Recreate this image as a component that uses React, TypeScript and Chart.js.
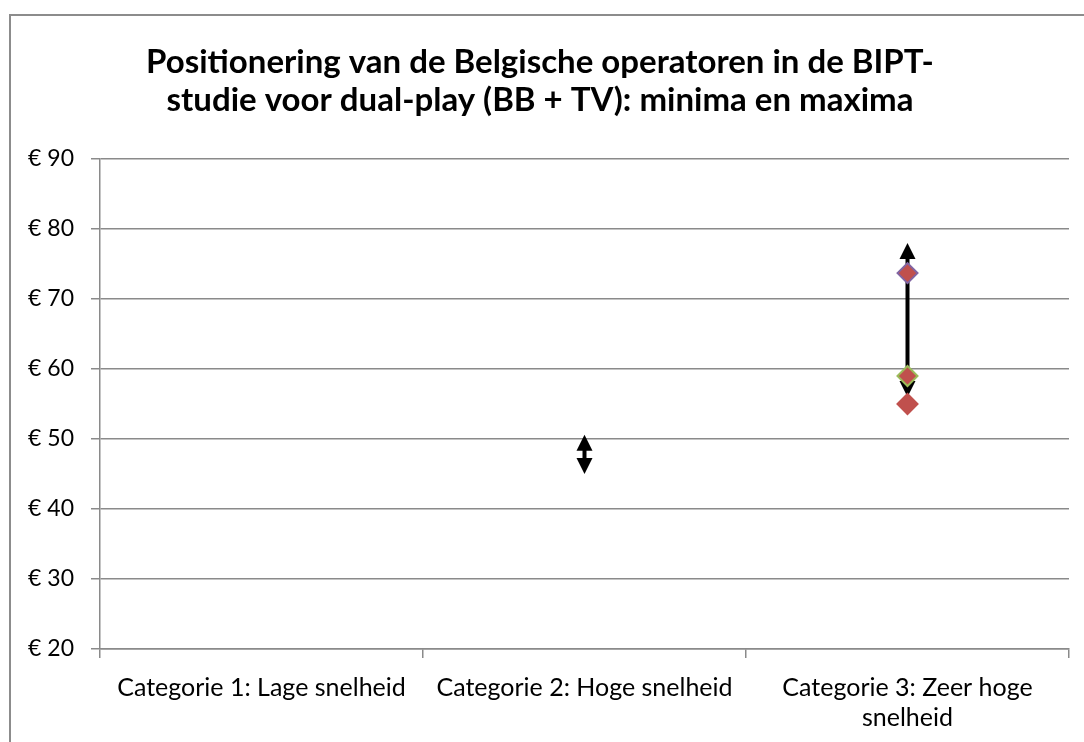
import React, { useEffect, useRef } from "react";
import { Chart, registerables } from "chart.js";

Chart.register(...registerables);

const titleLines = [
  "Positionering van de Belgische operatoren in de BIPT-",
  "studie voor dual-play (BB + TV): minima en maxima",
];
const categories: (string | string[])[] = [
  "Categorie 1: Lage snelheid",
  "Categorie 2: Hoge snelheid",
  ["Categorie 3: Zeer hoge", "snelheid"],
];
const arrowMin: (number | null)[] = [null, 45, 56];
const arrowMax: (number | null)[] = [null, 50.6, 78];
const operatorA: (number | null)[] = [null, null, 73.7];
const operatorB: (number | null)[] = [null, null, 59];
const operatorC: (number | null)[] = [null, null, 55];
const yTicks = [20, 30, 40, 50, 60, 70, 80, 90];

const FONT = "Lato, 'Noto Sans', sans-serif";
const GRID = "#8a8a8a";

const arrowPlugin = {
  id: "minMaxArrows",
  beforeDatasetsDraw(chart: any) {
    const { ctx, scales } = chart;
    const xs = scales.x;
    const ys = scales.y;
    const head = 16;
    const half = 8;
    ctx.save();
    ctx.fillStyle = "#000";
    ctx.strokeStyle = "#000";
    ctx.lineWidth = 4;
    for (let i = 0; i < categories.length; i++) {
      const lo = arrowMin[i];
      const hi = arrowMax[i];
      if (lo == null || hi == null) continue;
      const x = xs.getPixelForValue(i);
      const yLo = ys.getPixelForValue(lo);
      const yHi = ys.getPixelForValue(hi);
      ctx.beginPath();
      ctx.moveTo(x, yHi + head - 1);
      ctx.lineTo(x, yLo - head + 1);
      ctx.stroke();
      ctx.beginPath();
      ctx.moveTo(x, yHi);
      ctx.lineTo(x - half, yHi + head);
      ctx.lineTo(x + half, yHi + head);
      ctx.closePath();
      ctx.fill();
      ctx.beginPath();
      ctx.moveTo(x, yLo);
      ctx.lineTo(x - half, yLo - head);
      ctx.lineTo(x + half, yLo - head);
      ctx.closePath();
      ctx.fill();
    }
    ctx.restore();
  },
};

function markerSet(label: string, data: (number | null)[], border: string) {
  return {
    label,
    data,
    showLine: false,
    pointStyle: "rectRot",
    pointRadius: 10,
    pointHoverRadius: 10,
    pointBackgroundColor: "#C0504D",
    pointBorderColor: border,
    pointBorderWidth: 2,
    backgroundColor: "#C0504D",
    borderColor: border,
  };
}

export default function App() {
  const ref = useRef<HTMLCanvasElement | null>(null);
  useEffect(() => {
    if (!ref.current) return;
    const chart = new Chart(ref.current, {
      type: "line",
      data: {
        labels: categories as any,
        datasets: [
          markerSet("Operator A", operatorA, "#8064A2"),
          markerSet("Operator B", operatorB, "#9BBB59"),
          markerSet("Operator C", operatorC, "#C0504D"),
        ] as any,
      },
      plugins: [arrowPlugin],
      options: {
        responsive: false,
        animation: false,
        layout: { padding: { right: 15, left: 0, top: 0, bottom: 0 } },
        plugins: {
          legend: { display: false },
          tooltip: { enabled: false },
          title: {
            display: true,
            text: titleLines,
            color: "#000",
            font: { family: FONT, size: 33, weight: "bold", lineHeight: 38 / 33 },
            padding: { top: 27, bottom: 40 },
          },
        },
        scales: {
          x: {
            type: "category",
            offset: true,
            afterFit: (s: any) => {
              s.height = 93;
            },
            grid: {
              offset: true,
              drawOnChartArea: false,
              drawTicks: true,
              tickLength: 9,
              color: GRID,
              lineWidth: 1.5,
            },
            border: { color: GRID, width: 1.5 },
            ticks: {
              color: "#000",
              padding: 15,
              maxRotation: 0,
              autoSkip: false,
              font: { family: FONT, size: 25, lineHeight: 30 / 25 },
            },
          },
          y: {
            min: 20,
            max: 90,
            afterFit: (s: any) => {
              s.width = 89;
            },
            afterBuildTicks: (s: any) => {
              s.ticks = yTicks.map((v) => ({ value: v }));
            },
            grid: {
              color: GRID,
              lineWidth: 1.5,
              tickLength: 9,
            },
            border: { color: GRID, width: 1.5 },
            ticks: {
              color: "#000",
              padding: 17,
              font: { family: FONT, size: 23 },
              callback: (v: any) => "€ " + v,
            },
          },
        },
      },
    } as any);
    return () => chart.destroy();
  }, []);
  return (
    <div
      style={{
        position: "fixed",
        left: 9,
        top: 14,
        width: 1075,
        height: 728,
        boxSizing: "border-box",
        borderLeft: "2px solid #8c8c8c",
        borderTop: "2px solid #8c8c8c",
        background: "#fff",
      }}
    >
      <canvas ref={ref} width={1073} height={726} style={{ display: "block" }} />
    </div>
  );
}
